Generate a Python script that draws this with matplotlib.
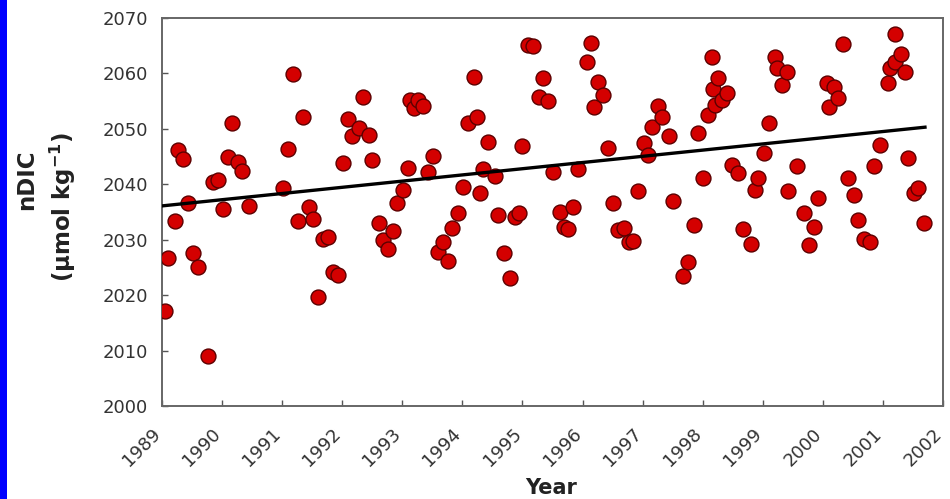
import matplotlib
matplotlib.use("Agg")
import matplotlib.pyplot as plt
from matplotlib.patches import Rectangle
from matplotlib.transforms import ScaledTranslation

# values
years = [1989.05, 1989.10, 1989.22, 1989.27, 1989.35, 1989.43, 1989.52, 1989.60, 1989.77, 1989.85,
         1989.93, 1990.02, 1990.10, 1990.17, 1990.26, 1990.33, 1990.45, 1991.01, 1991.10, 1991.18,
         1991.26, 1991.35, 1991.45, 1991.51, 1991.60, 1991.68, 1991.76, 1991.85, 1991.93, 1992.01,
         1992.10, 1992.16, 1992.28, 1992.35, 1992.45, 1992.50, 1992.61, 1992.68, 1992.76, 1992.84,
         1992.91, 1993.01, 1993.09, 1993.13, 1993.19, 1993.26, 1993.34, 1993.43, 1993.51, 1993.59,
         1993.68, 1993.76, 1993.83, 1993.93, 1994.01, 1994.09, 1994.19, 1994.24, 1994.29, 1994.34,
         1994.43, 1994.54, 1994.59, 1994.69, 1994.79, 1994.88, 1994.94, 1994.99, 1995.09, 1995.18,
         1995.27, 1995.34, 1995.42, 1995.51, 1995.62, 1995.69, 1995.76, 1995.84, 1995.92, 1996.07,
         1996.14, 1996.19, 1996.26, 1996.34, 1996.42, 1996.51, 1996.59, 1996.69, 1996.77, 1996.84,
         1996.92, 1997.02, 1997.09, 1997.16, 1997.26, 1997.32, 1997.44, 1997.51, 1997.67, 1997.75,
         1997.85, 1997.92, 1998.00, 1998.09, 1998.15, 1998.17, 1998.20, 1998.25, 1998.32, 1998.40,
         1998.49, 1998.59, 1998.67, 1998.80, 1998.87, 1998.92, 1999.02, 1999.10, 1999.20, 1999.24,
         1999.32, 1999.40, 1999.42, 1999.57, 1999.69, 1999.77, 1999.85, 1999.92, 2000.07, 2000.10,
         2000.19, 2000.25, 2000.33, 2000.42, 2000.52, 2000.58, 2000.68, 2000.78, 2000.85, 2000.95,
         2001.08, 2001.12, 2001.20, 2001.20, 2001.30, 2001.37, 2001.42, 2001.52, 2001.58, 2001.68]
ndic = [2017.1, 2026.7, 2033.4, 2046.2, 2044.6, 2036.6, 2027.6, 2025.1, 2009.0, 2040.4,
        2040.8, 2035.5, 2044.9, 2051.1, 2044.0, 2042.4, 2036.1, 2039.3, 2046.4, 2059.9,
        2033.4, 2052.1, 2035.9, 2033.7, 2019.7, 2030.1, 2030.5, 2024.2, 2023.6, 2043.8,
        2051.8, 2048.7, 2050.2, 2055.7, 2048.9, 2044.4, 2033.0, 2030.0, 2028.3, 2031.6,
        2036.6, 2039.0, 2042.9, 2055.2, 2053.8, 2055.2, 2054.1, 2042.2, 2045.1, 2027.8,
        2029.6, 2026.2, 2032.1, 2034.8, 2039.5, 2051.1, 2059.4, 2052.1, 2038.4, 2042.8,
        2047.6, 2041.5, 2034.5, 2027.6, 2023.1, 2034.1, 2034.8, 2046.9, 2065.1, 2064.9,
        2055.7, 2059.2, 2055.0, 2042.2, 2035.0, 2032.3, 2031.9, 2035.9, 2042.8, 2062.1,
        2065.5, 2054.0, 2058.5, 2056.1, 2046.5, 2036.6, 2031.8, 2032.1, 2029.6, 2029.8,
        2038.8, 2047.4, 2045.3, 2050.3, 2054.1, 2052.1, 2048.7, 2037.0, 2023.5, 2026.0,
        2032.7, 2049.2, 2041.1, 2052.5, 2063.0, 2057.2, 2054.3, 2059.2, 2055.2, 2056.5,
        2043.5, 2042.0, 2031.9, 2029.2, 2039.0, 2041.1, 2045.6, 2051.1, 2063.0, 2061.0,
        2057.9, 2060.3, 2038.8, 2043.3, 2034.8, 2029.0, 2032.3, 2037.5, 2058.3, 2054.0,
        2057.6, 2055.6, 2065.3, 2041.1, 2038.1, 2033.6, 2030.1, 2029.6, 2043.3, 2047.1,
        2058.3, 2061.0, 2067.1, 2062.1, 2063.5, 2060.3, 2044.7, 2038.4, 2039.3, 2033.0]

trend_years = [1989.0, 2001.7]
trend_values = [2036.1, 2050.3]

year_ticks = list(range(1989, 2003))
ndic_ticks = list(range(2000, 2071, 10))

plt.rcParams['font.family'] = ['DejaVu Sans']

fig = plt.figure(figsize=(9.5, 4.99), dpi=100)
fig.patches.append(Rectangle((0, 0), 7 / 950, 1, transform=fig.transFigure,
                             facecolor='#0000ff', edgecolor='none'))
ax = fig.add_axes([162 / 950, 1 - 406 / 499, 781 / 950, 388 / 499])

ax.scatter(years, ndic, s=115, facecolor='#d40000', edgecolor='#5c0000',
           linewidth=1.0, zorder=3)
ax.plot(trend_years, trend_values, color='black', linewidth=2.4, zorder=4)

ax.set_xlim(1989, 2002)
ax.set_ylim(2000, 2070)
ax.set_xticks(year_ticks)
ax.set_yticks(ndic_ticks)
ax.set_xticklabels([str(y) for y in year_ticks], rotation=45, ha='right',
                   va='center', rotation_mode='anchor', fontsize=14.5)
ax.tick_params(direction='in', length=4, width=1, colors='#555555',
               labelcolor='#333333', labelsize=13)
ax.tick_params(axis='y', pad=10)
ax.tick_params(axis='x', pad=18)
shift = ScaledTranslation(-4 / 100, 0, fig.dpi_scale_trans)
for lab in ax.get_xticklabels():
    lab.set_transform(lab.get_transform() + shift)
for sp in ax.spines.values():
    sp.set_color('#666666')
    sp.set_linewidth(1.4)

fig.text(551 / 950, 1 - 488 / 499, 'Year', fontsize=15, fontweight='bold',
         color='#222222', ha='center', va='center')
fig.text(27 / 950, 1 - 180 / 499, 'nDIC', fontsize=16.5, fontweight='bold',
         color='#222222', rotation=90, ha='center', va='center')
fig.text(63 / 950, 1 - 207 / 499, '(\u03bcmol kg$^{\\mathbf{-1}}$)', fontsize=16.5,
         fontweight='bold', color='#222222', rotation=90, ha='center', va='center')

fig.savefig('out.png', dpi=100)
